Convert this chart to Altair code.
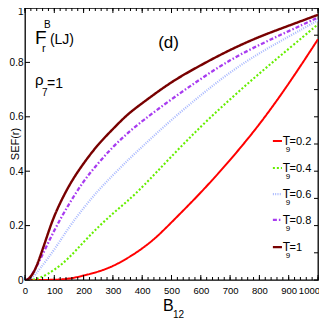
import altair as alt
import pandas as pd

# ---------------- data ----------------
T_LABELS = ["0.2", "0.4", "0.6", "0.8", "1"]
COLORS = ["#ff0000", "#66ee00", "#a8b8ff", "#a83cf0", "#780000"]
DASHES = [[1, 0], [2, 2], [1, 1.3], [4, 2, 1.5, 2], [1, 0]]
WIDTHS = [2.0, 2.4, 1.0, 1.6, 3.2]

B_02 = [0, 100, 150, 200, 250, 300, 350, 400, 450, 500, 600, 700, 800, 900, 1000]
S_02 = [0, 0.0, 0.004, 0.016, 0.03, 0.05, 0.08, 0.115, 0.158, 0.212, 0.32, 0.44, 0.57, 0.72, 0.885]

B_04 = [0, 25, 50, 100, 150, 200, 250, 300, 350, 400, 500, 600, 700, 800, 900, 1000]
S_04 = [0, 0.0, 0.006, 0.035, 0.08, 0.14, 0.195, 0.245, 0.29, 0.34, 0.455, 0.565, 0.665, 0.76, 0.85, 0.94]

B_06 = [0, 20, 50, 100, 150, 200, 250, 300, 350, 400, 500, 600, 700, 800, 900, 1000]
S_06 = [0, 0.0, 0.04, 0.11, 0.195, 0.265, 0.33, 0.385, 0.44, 0.49, 0.59, 0.68, 0.765, 0.835, 0.895, 0.955]

B_08 = [0, 15, 50, 100, 150, 200, 250, 300, 350, 400, 500, 600, 700, 800, 900, 1000]
S_08 = [0, 0.0, 0.07, 0.185, 0.28, 0.365, 0.43, 0.49, 0.54, 0.585, 0.665, 0.74, 0.81, 0.865, 0.915, 0.965]

B_10 = [0, 10, 30, 50, 75, 100, 150, 200, 250, 300, 350, 400, 500, 600, 700, 800, 900, 1000]
S_10 = [0, 0.0, 0.025, 0.08, 0.16, 0.24, 0.35, 0.43, 0.5, 0.555, 0.61, 0.65, 0.73, 0.79, 0.847, 0.895, 0.935, 0.975]

X_LABELS = list(range(0, 1001, 100))
Y_LABELS = [0, 0.2, 0.4, 0.6, 0.8, 1.0]
X_MINOR = list(range(0, 1001, 20))
Y_RIGHT = [i / 10 for i in range(0, 11)]

# legend rows (SEF-axis positions of the legend entries)
LEG_V = [0.511, 0.412, 0.316, 0.221, 0.121]

W, H = 293, 272
FONT_N = "Liberation Sans Narrow, Liberation Sans, Arial, sans-serif"
FONT = "Liberation Sans, Arial, sans-serif"

rows = []
for lab, bs, ss in zip(T_LABELS, [B_02, B_04, B_06, B_08, B_10], [S_02, S_04, S_06, S_08, S_10]):
    for b, s in zip(bs, ss):
        rows.append({"B": b, "SEF": s, "T": lab})
df = pd.DataFrame(rows)

xs = alt.Scale(domain=[0, 1000], nice=False, zero=False)
ys = alt.Scale(domain=[0, 1], nice=False, zero=False)
cs = alt.Scale(domain=T_LABELS, range=COLORS)
ds = alt.Scale(domain=T_LABELS, range=DASHES)
ws = alt.Scale(domain=T_LABELS, range=WIDTHS)

AX_X = alt.Axis(values=X_LABELS, format="d", ticks=False, domain=False, grid=False, title=None,
                labelFont=FONT_N, labelFontSize=9.5, labelColor="black", labelPadding=5,
                labelFlush=False, labelOverlap=False,
                labelAlign={"condition": {"test": "datum.value >= 1000", "value": "right"},
                            "value": "center"},
                labelOffset={"condition": {"test": "datum.value >= 1000", "value": 1.5},
                             "value": 0})
AX_Y = alt.Axis(values=Y_LABELS, format=".1~f", ticks=False, domain=False, grid=False, title=None,
                labelFont=FONT_N, labelFontSize=10, labelColor="black", labelPadding=2,
                labelFlush=False, labelOverlap=False,
                labelOffset={"condition": {"test": "datum.value >= 1", "value": 3}, "value": 0})


def X(field, **kw):
    return alt.X(field, scale=xs, axis=AX_X, **kw)


def Y(field, **kw):
    return alt.Y(field, scale=ys, axis=AX_Y, **kw)


lines = alt.Chart(df).mark_line(interpolate="basis", clip=True).encode(
    x=X("B:Q"),
    y=Y("SEF:Q"),
    color=alt.Color("T:N", scale=cs, legend=None),
    strokeDash=alt.StrokeDash("T:N", scale=ds, legend=None),
    strokeWidth=alt.StrokeWidth("T:N", scale=ws, legend=None),
    order=alt.Order("B:Q"),
)


# inward ticks
def xticks(vals, y0, y1):
    return alt.Chart(pd.DataFrame({"t": vals})).mark_rule(color="black", strokeWidth=1).encode(
        x=X("t:Q"), y=alt.value(y0), y2=alt.value(y1))


def yticks(vals, x0, x1):
    return alt.Chart(pd.DataFrame({"t": vals})).mark_rule(color="black", strokeWidth=1).encode(
        y=Y("t:Q"), x=alt.value(x0), x2=alt.value(x1))


ticks = [
    xticks(X_MINOR, H, H - 3), xticks(X_LABELS, H, H - 5),
    xticks(X_MINOR, 0, 3), xticks(X_LABELS, 0, 5),
    yticks(Y_LABELS, 0, 5), yticks(Y_RIGHT, W, W - 4),
]

# legend
leg = pd.DataFrame({"T": T_LABELS, "v": LEG_V})
leg["b1"] = 846
leg["b2"] = 877
leg["tv"] = leg["v"] - 4 / H
leg["sv"] = leg["v"] - 11 / H
leg["lab"] = "=" + leg["T"]

leg_lines = alt.Chart(leg).mark_rule().encode(
    x=X("b1:Q"), x2="b2:Q",
    y=Y("v:Q"),
    color=alt.Color("T:N", scale=cs, legend=None),
    strokeDash=alt.StrokeDash("T:N", scale=ds, legend=None),
    strokeWidth=alt.StrokeWidth("T:N", scale=ws, legend=None),
)
leg_T = alt.Chart(leg).mark_text(text="T", font=FONT_N, fontSize=12, align="left",
                                 baseline="alphabetic").encode(
    x=X("bx:Q"), y=Y("tv:Q")).transform_calculate(bx="880")
leg_9 = alt.Chart(leg).mark_text(text="9", font=FONT_N, fontSize=8, align="left",
                                 baseline="alphabetic").encode(
    x=X("bx:Q"), y=Y("sv:Q")).transform_calculate(bx="890")
leg_lab = alt.Chart(leg).mark_text(font=FONT_N, fontSize=11, align="left",
                                   baseline="alphabetic").encode(
    x=X("bx:Q"), y=Y("tv:Q"), text="lab:N").transform_calculate(bx="903")


def label(txt, b, v, size, font=FONT_N, align="left", angle=0):
    kw = dict(text=txt, font=font, fontSize=size, align=align, baseline="alphabetic", color="black")
    if angle:
        kw["angle"] = angle
        kw["baseline"] = "middle"
    return alt.Chart(pd.DataFrame({"a": [0]})).mark_text(**kw).encode(
        x=alt.X(datum=b, type="quantitative", scale=xs, axis=AX_X),
        y=alt.Y(datum=v, type="quantitative", scale=ys, axis=AX_Y))


annots = [
    label("F", 34, 0.869, 19),
    label("B", 65, 0.926, 10),
    label("r", 58, 0.838, 11),
    label("(LJ)", 85, 0.868, 14),
    label("ρ", 34, 0.717, 15),
    label("7", 58, 0.676, 10),
    label("=1", 75, 0.706, 14),
    label("(d)", 490, 0.853, 17, align="center"),
    label("B", 471, -0.114, 16),
    label("12", 505, -0.14, 10),
    label("SEF(r)", -31, 0.50, 11, font=FONT, align="center", angle=270),
]

chart = alt.layer(lines, *ticks, leg_lines, leg_T, leg_9, leg_lab, *annots).properties(
    width=W, height=H,
    padding={"left": 17, "top": 0, "right": 1, "bottom": 39},
    autosize="none",
    background="white",
).configure_view(stroke="black", strokeWidth=1.3)

chart.save("out.html", embed_options={"renderer": "svg", "actions": False})
